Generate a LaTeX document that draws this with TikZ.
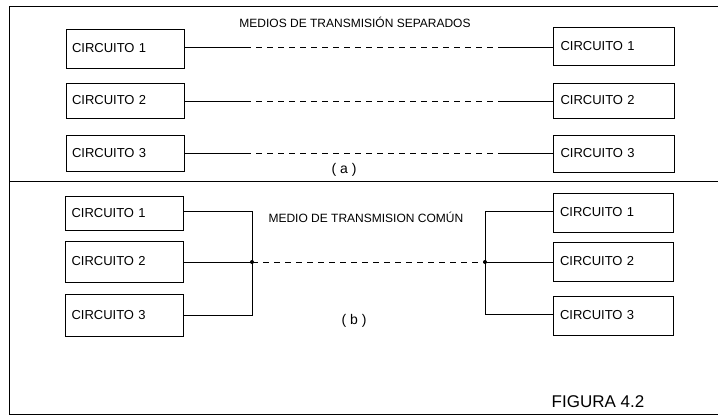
\documentclass[tikz,border=0pt]{standalone}
\usepackage{fontspec}
\setmainfont{Liberation Sans}
\begin{document}
\begin{tikzpicture}[x=1pt,y=-1pt,
  circ/.style={draw,line width=1pt,minimum width=118pt,text width=106pt,align=left,inner xsep=6pt,font=\fontsize{13}{14}\selectfont},
  wire/.style={line width=0.9pt},
  dwire/.style={line width=0.9pt,dash pattern=on 6pt off 5pt},
  frame/.style={line width=1pt},
  lbl/.style={font=\fontsize{12}{14}\selectfont}]
\useasboundingbox (0,0) rectangle (718,415);
% frame
\draw[frame] (718,6) -- (9,6) -- (9,414) -- (718,414);
\draw[frame] (9,181) -- (718,181);
% (a) separate media
\node[lbl] (ta) at (355,22) {MEDIOS DE TRANSMISIÓN SEPARADOS};
\node[circ,minimum height=39pt] (a1) at (125,48.5) {CIRCUITO 1};
\node[circ,minimum height=35pt] (a2) at (125,100.5) {CIRCUITO 2};
\node[circ,minimum height=36pt] (a3) at (125,153) {CIRCUITO 3};
\node[circ,minimum height=38pt,minimum width=121pt] (b1) at (613.5,46.5) {CIRCUITO 1};
\node[circ,minimum height=35pt,minimum width=121pt] (b2) at (613.5,100.5) {CIRCUITO 2};
\node[circ,minimum height=37pt,minimum width=121pt] (b3) at (613.5,153.5) {CIRCUITO 3};
\foreach \i/\y in {1/47.5,2/101,3/153}{
  \coordinate (p\i) at (245,\y);
  \coordinate (q\i) at (500,\y);
  \draw[wire] (a\i.east |- p\i) -- (p\i);
  \draw[dwire] (p\i) -- (q\i);
  \draw[wire] (q\i) -- (b\i.west |- q\i);
}
\node[font=\fontsize{14}{16}\selectfont] (la) at (344,170) {( a )};
% (b) common medium
\node[lbl,anchor=west] (tb) at (265,217) {MEDIO DE TRANSMISION COMÚN};
\node[circ,minimum height=34pt] (c1) at (124.5,213.5) {CIRCUITO 1};
\node[circ,minimum height=41pt] (c2) at (124.5,261.5) {CIRCUITO 2};
\node[circ,minimum height=42pt] (c3) at (124.5,315) {CIRCUITO 3};
\node[circ,minimum height=39pt,minimum width=120pt] (d1) at (613,212.5) {CIRCUITO 1};
\node[circ,minimum height=39pt,minimum width=120pt] (d2) at (613,261.5) {CIRCUITO 2};
\node[circ,minimum height=39pt,minimum width=120pt] (d3) at (613,315.5) {CIRCUITO 3};
\coordinate (j1) at (252,262);
\coordinate (j2) at (485,262);
\draw[wire] (c1.east |- 0,211) -| (j1);
\draw[wire] (c2.east |- j1) -- (j1);
\draw[wire] (c3.east |- 0,315) -| (j1);
\draw[wire] (d1.west |- 0,211) -| (j2);
\draw[wire] (d2.west |- j2) -- (j2);
\draw[wire] (d3.west |- 0,314) -| (j2);
\draw[dwire] (j1) -- (j2);
\fill (j1) circle (2pt);
\fill (j2) circle (2pt);
\node[font=\fontsize{14}{16}\selectfont] (lb) at (354,321) {( b )};
\node[font=\fontsize{17}{19}\selectfont] (fig) at (598,402) {FIGURA 4.2};
\end{tikzpicture}
\end{document}
